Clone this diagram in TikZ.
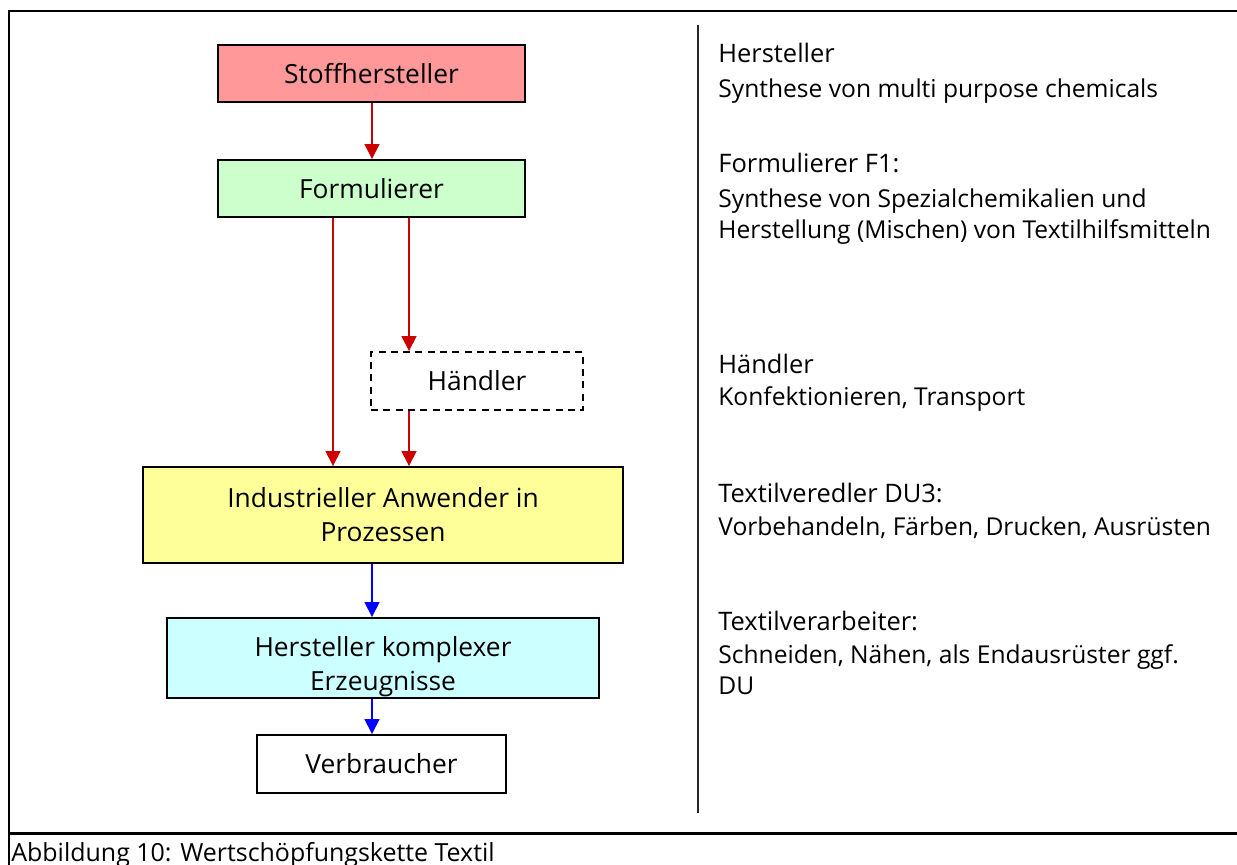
\documentclass[tikz,border=0pt]{standalone}
\usepackage{fontspec}
\setmainfont{Open Sans}
\usetikzlibrary{arrows.meta}

\definecolor{boxred}{HTML}{FF9999}
\definecolor{boxgreen}{HTML}{CCFFCC}
\definecolor{boxyellow}{HTML}{FFFF99}
\definecolor{boxcyan}{HTML}{CCFFFF}
\definecolor{flowred}{HTML}{CC0000}
\definecolor{flowblue}{HTML}{0000FF}

\tikzset{
  flowbox/.style={draw=black, line width=1.1pt, inner sep=0pt, align=center,
    font=\fontsize{15}{19.3}\selectfont},
  redflow/.style={draw=flowred, line width=0.9pt, -{Triangle[width=8.5pt,length=8.5pt]}, color=flowred},
  blueflow/.style={draw=flowblue, line width=0.9pt, -{Triangle[width=8.5pt,length=8.5pt]}, color=flowblue},
  rhead/.style={anchor=base west, inner sep=0pt, font=\fontsize{14.5}{17}\selectfont},
  rbody/.style={anchor=base west, inner sep=0pt, align=left, font=\fontsize{14}{17.6}\selectfont},
  framerule/.style={line width=1.7pt},
}

\begin{document}
\begin{tikzpicture}[x=0.02cm, y=-0.02cm]
\useasboundingbox (0,0) rectangle (1237,865);

% outer frame and caption row
\draw[framerule] (9,866) -- (9,11) -- (1238,11);
\draw[framerule] (9,833) -- (1238,833);
\node[anchor=base west, inner sep=0pt, font=\fontsize{14.2}{16}\selectfont] (caption) at (11,861)
  {Abbildung 10: Wertschöpfungskette Textil};

% divider between chain and descriptions
\draw[line width=1.1pt, black!85] (698,25) -- (698,813);

% value chain boxes
\node[flowbox, fill=boxred, minimum width=6.14cm, minimum height=1.14cm] (stoff) at (371.5,73.5) {Stoffhersteller};
\node[flowbox, fill=boxgreen, minimum width=6.14cm, minimum height=1.14cm] (form) at (371.5,188.5) {Formulierer};
\node[flowbox, dashed, dash pattern=on 4pt off 3pt, fill=white, minimum width=4.24cm, minimum height=1.16cm] (haendler) at (477,381) {Händler};
\node[flowbox, fill=boxyellow, minimum width=9.6cm, minimum height=1.92cm] (ind) at (383,515)
  {Industrieller Anwender in\\Prozessen};
\node[flowbox, fill=boxcyan, minimum width=8.64cm, minimum height=1.6cm,
  path picture={\node[align=center, font=\fontsize{15}{19.3}\selectfont, yshift=-0.18cm]
    at (path picture bounding box.center) {Hersteller komplexer\\Erzeugnisse};}] (herst) at (383,658) {};
\node[flowbox, fill=white, minimum width=4.98cm, minimum height=1.16cm] (verb) at (381.5,764) {Verbraucher};

% connector columns
\coordinate (lx) at (333,0);
\coordinate (rx) at (409,0);
\coordinate (cx) at (372,0);

\draw[redflow] (stoff.south -| cx) -- (form.north -| cx);
\draw[redflow] (form.south -| lx) -- (ind.north -| lx);
\draw[redflow] (form.south -| rx) -- (haendler.north -| rx);
\draw[redflow] (haendler.south -| rx) -- (ind.north -| rx);
\draw[blueflow] (ind.south -| cx) -- (herst.north -| cx);
\draw[blueflow] (herst.south -| cx) -- (verb.north -| cx);

% role descriptions (multi-line bodies sit on the baseline of their last line)
\node[rhead] (h1) at (718,63) {Hersteller};
\node[rbody] (b1) at (718,97) {Synthese von multi purpose chemicals};
\node[rhead] (h2) at (718,173) {Formulierer F1:};
\node[rbody] (b2) at (718,238) {Synthese von Spezialchemikalien und\\Herstellung (Mischen) von Textilhilfsmitteln};
\node[rhead] (h3) at (718,373) {Händler};
\node[rbody] (b3) at (718,405) {Konfektionieren, Transport};
\node[rhead] (h4) at (718,502) {Textilveredler DU3:};
\node[rbody] (b4) at (718,535) {Vorbehandeln, Färben, Drucken, Ausrüsten};
\node[rhead] (h5) at (718,630) {Textilverarbeiter:};
\node[rbody] (b5) at (718,694) {Schneiden, Nähen, als Endausrüster ggf.\\DU};
\end{tikzpicture}
\end{document}
